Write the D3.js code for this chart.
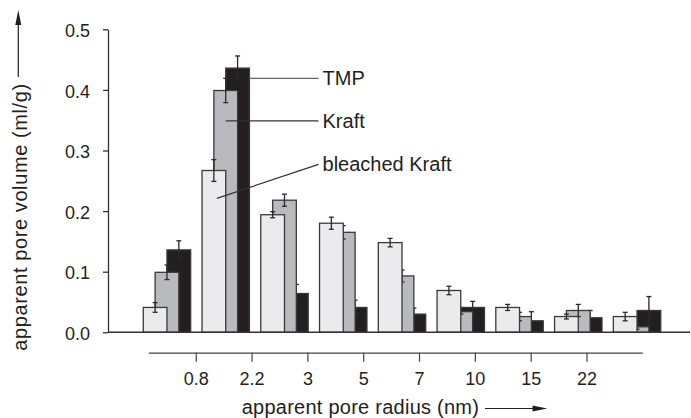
<!DOCTYPE html>
<html>
<head>
<meta charset="utf-8">
<script src="https://cdn.jsdelivr.net/npm/d3@7"></script>
<style>
  body { margin: 0; background: #fff; }
  text { font-family: "Liberation Sans", Arial, Helvetica, sans-serif; fill: #231f20; }
</style>
</head>
<body>
<script>
// pore radius classes (nm) and the boundary labels shown on the lower axis
var bins = ["<0.8", "0.8-2.2", "2.2-3", "3-5", "5-7", "7-10", "10-15", "15-22", ">22"];
var radiusTicks = ["0.8", "2.2", "3", "5", "7", "10", "15", "22"];
var volumeTicks = [0, 0.1, 0.2, 0.3, 0.4, 0.5];

// apparent pore volume (ml/g) and error (+/-)
var bleached    = [0.041, 0.267, 0.194, 0.180, 0.148, 0.069, 0.041, 0.026, 0.026];
var bleachedErr = [0.008, 0.018, 0.005, 0.010, 0.007, 0.007, 0.005, 0.004, 0.007];
var kraft       = [0.099, 0.399, 0.218, 0.165, 0.093, 0.034, 0.026, 0.036, 0.009];
var kraftErr    = [0.012, 0.020, 0.010, 0.011, 0.010, 0.004, 0.007, 0.010, 0.004];
var tmp         = [0.136, 0.436, 0.064, 0.041, 0.030, 0.041, 0.019, 0.024, 0.036];
var tmpErr      = [0.015, 0.020, 0.015, 0.012, 0.010, 0.010, 0.015, 0.012, 0.023];

var W = 691, H = 418;
var ink = "#231f20";

var svg = d3.select("body").append("svg")
  .attr("width", W)
  .attr("height", H);

var x = d3.scaleBand()
  .domain(bins)
  .range([108, 696])
  .paddingInner(0.193)
  .paddingOuter(0.6);

var y = d3.scaleLinear()
  .domain([0, 0.5])
  .range([332.3, 29.3]);

// lower (radius) axis has its own spacing
var xr = d3.scaleLinear()
  .domain([-0.85, 8])
  .range([148.3, 642.3]);

var bw = x.bandwidth() / 2;   // one bar
var step = bw / 2;            // bars overlap by half

// back to front: TMP, Kraft, bleached Kraft
var series = [
  { name: "TMP", values: tmp, err: tmpErr, fill: "#231f20", off: 2 },
  { name: "Kraft", values: kraft, err: kraftErr, fill: "#b9babd", off: 1 },
  { name: "bleached Kraft", values: bleached, err: bleachedErr, fill: "#ebebed", off: 0 }
];

function barX(i, s){
  return x(bins[i]) + s.off * step;
}

function drawSeries(s){
  var g = svg.append("g").attr("class", "series");
  var rows = s.values.map(function(v, i){ return { i: i, v: v, e: s.err[i] }; });

  g.selectAll("rect")
    .data(rows)
    .enter()
    .append("rect")
    .attr("x", function(d){ return barX(d.i, s); })
    .attr("y", function(d){ return y(d.v); })
    .attr("width", bw)
    .attr("height", function(d){ return y(0) - y(d.v); })
    .attr("fill", s.fill)
    .attr("stroke", "#3a3a3a")
    .attr("stroke-width", 1.3);

  var eb = g.selectAll("g.err")
    .data(rows)
    .enter()
    .append("g")
    .attr("class", "err")
    .attr("stroke", "#2a2a2a")
    .attr("stroke-width", 1.3);

  eb.append("line")
    .attr("x1", function(d){ return barX(d.i, s) + bw / 2; })
    .attr("x2", function(d){ return barX(d.i, s) + bw / 2; })
    .attr("y1", function(d){ return y(d.v + d.e); })
    .attr("y2", function(d){ return y(d.v - d.e); });

  [1, -1].forEach(function(sign){
    eb.append("line")
      .attr("x1", function(d){ return barX(d.i, s) + bw / 2 - 2.5; })
      .attr("x2", function(d){ return barX(d.i, s) + bw / 2 + 2.5; })
      .attr("y1", function(d){ return y(d.v + sign * d.e); })
      .attr("y2", function(d){ return y(d.v + sign * d.e); });
  });
}

series.forEach(drawSeries);

// y axis
var yAxis = d3.axisLeft(y)
  .tickValues(volumeTicks)
  .tickFormat(d3.format(".1f"))
  .tickSize(5)
  .tickSizeOuter(0)
  .tickPadding(13);

var gy = svg.append("g")
  .attr("transform", "translate(108,0)")
  .call(yAxis);
gy.selectAll("path, line").attr("stroke", "#333").attr("stroke-width", 1.3);
gy.selectAll("text")
  .attr("dy", "0.4em")
  .style("font-size", "18px")
  .style("font-family", "'Liberation Sans', Arial, sans-serif")
  .attr("fill", ink);

// baseline
svg.append("line")
  .attr("x1", 108).attr("x2", 690)
  .attr("y1", y(0)).attr("y2", y(0))
  .attr("stroke", "#333")
  .attr("stroke-width", 1.5);

// radius axis
var rAxis = d3.axisBottom(xr)
  .tickValues(d3.range(radiusTicks.length))
  .tickFormat(function(i){ return radiusTicks[i]; })
  .tickSize(9)
  .tickSizeOuter(0)
  .tickPadding(10.5);

var gr = svg.append("g")
  .attr("transform", "translate(0,352.7)")
  .call(rAxis);
gr.selectAll("path, line").attr("stroke", "#444").attr("stroke-width", 1.2);
gr.selectAll("text")
  .style("font-size", "18px")
  .style("font-family", "'Liberation Sans', Arial, sans-serif")
  .attr("fill", ink);

// axis titles with arrows
svg.append("text")
  .attr("transform", "translate(27,350.7) rotate(-90)")
  .style("font-size", "20px")
  .style("letter-spacing", "0.6px")
  .text("apparent pore volume (ml/g)");

svg.append("line")
  .attr("x1", 18.3).attr("x2", 18.3)
  .attr("y1", 77).attr("y2", 22)
  .attr("stroke", ink).attr("stroke-width", 1.2);
svg.append("path")
  .attr("d", "M18.3,10 L21.3,25 L15.3,25 Z")
  .attr("fill", ink);

svg.append("text")
  .attr("x", 241.7)
  .attr("y", 413.5)
  .style("font-size", "20px")
  .style("letter-spacing", "0.25px")
  .text("apparent pore radius (nm)");

svg.append("line")
  .attr("x1", 485).attr("x2", 536)
  .attr("y1", 408.5).attr("y2", 408.5)
  .attr("stroke", ink).attr("stroke-width", 1.2);
svg.append("path")
  .attr("d", "M547.3,408.5 L532.5,411.5 L532.5,405.5 Z")
  .attr("fill", ink);

// series labels with leader lines (to the 0.8-2.2 group)
var peak = 1;
var labelX = x(bins[3]) + 3;
var leaders = [
  { text: "TMP",            x1: barX(peak, series[0]) + bw, y1: y(0.419), y2: y(0.419), tone: "#666" },
  { text: "Kraft",          x1: barX(peak, series[1]) + bw / 2, y1: y(0.349), y2: y(0.349), tone: "#333" },
  { text: "bleached Kraft", x1: barX(peak, series[2]) + bw / 2 + 3, y1: y(0.221), y2: y(0.277), tone: "#333" }
];

leaders.forEach(function(l){
  svg.append("line")
    .attr("x1", l.x1).attr("y1", l.y1)
    .attr("x2", labelX - 4).attr("y2", l.y2)
    .attr("stroke", l.tone)
    .attr("stroke-width", 1.2);
  svg.append("text")
    .attr("x", labelX)
    .attr("y", l.y2 + 7)
    .style("font-size", "20px")
    .text(l.text);
});
</script>
</body>
</html>
